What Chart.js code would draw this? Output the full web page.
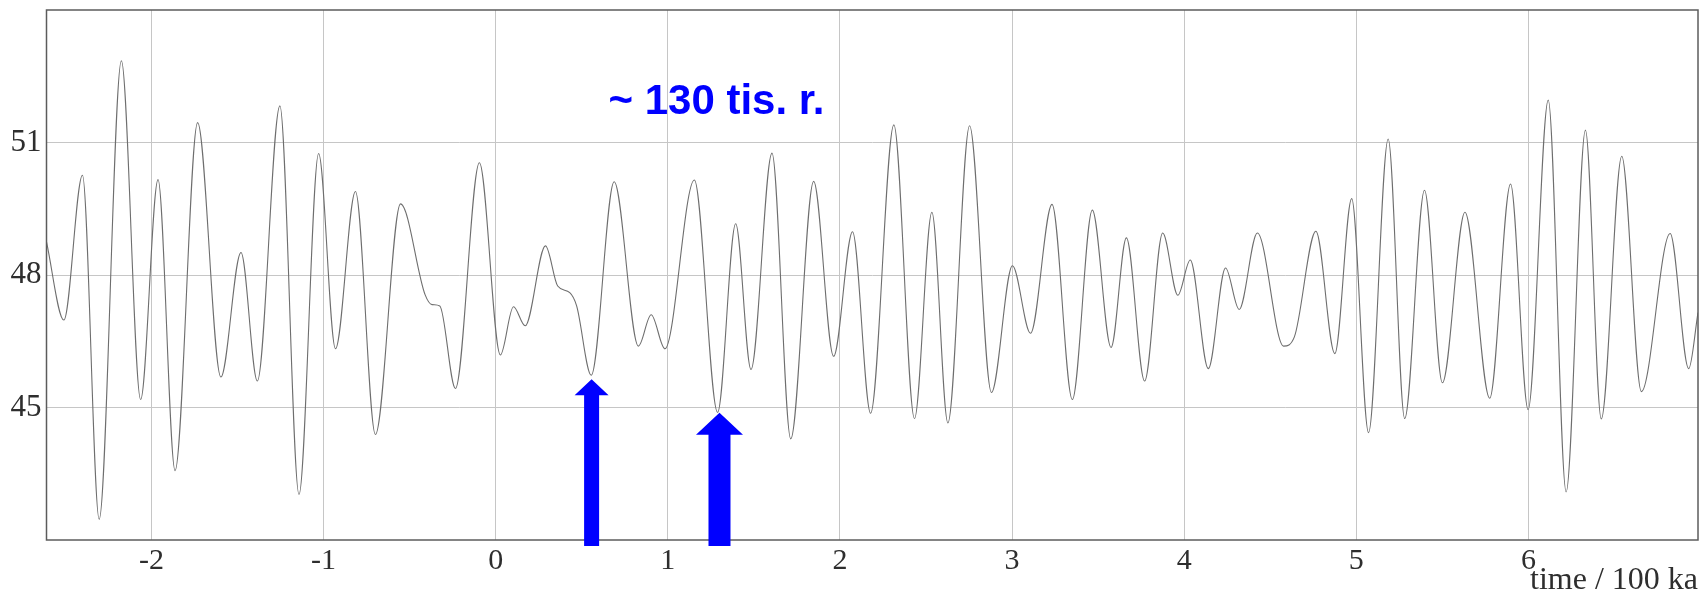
<!DOCTYPE html>
<html>
<head>
<meta charset="utf-8">
<script src="https://cdn.jsdelivr.net/npm/chart.js@4/dist/chart.umd.min.js"></script>
<style>
  html, body { margin: 0; padding: 0; background: #fff; }
  #wrap { width: 1703px; height: 597px; }
</style>
</head>
<body>
<div id="wrap"><canvas id="c" width="1703" height="597"></canvas></div>
<script>
// ---- data ----
const timeKa = [
  -2.61, -2.509, -2.401, -2.304, -2.175, -2.063, -1.962, -1.863, -1.732, -1.597,
  -1.480, -1.385, -1.254, -1.143, -1.029, -0.931, -0.815, -0.699, -0.553,
  -0.41, -0.37, -0.325, -0.234, -0.095, 0.027, 0.103, 0.171, 0.289, 0.36,
  0.43, 0.47, 0.555, 0.688, 0.829, 0.903, 0.983, 1.154, 1.289, 1.394,
  1.483, 1.605, 1.714, 1.847, 1.963, 2.073, 2.178, 2.313, 2.433, 2.534,
  2.627, 2.753, 2.880, 3.002, 3.107, 3.232, 3.350, 3.466, 3.575, 3.664,
  3.77, 3.875, 3.963, 4.035, 4.140, 4.240, 4.319, 4.425, 4.577,
  4.64, 4.765, 4.875, 4.973, 5.071, 5.185, 5.281, 5.396, 5.500, 5.631,
  5.775, 5.896, 5.998, 6.115, 6.219, 6.331, 6.423, 6.542, 6.656, 6.823,
  6.931, 6.985
];
const insolation = [
  48.75, 46.98, 50.26, 42.47, 52.85, 45.18, 50.16, 43.57, 51.45, 45.69,
  48.51, 45.60, 51.83, 43.03, 50.75, 46.33, 49.89, 44.39, 49.61,
  47.55, 47.33, 47.3, 45.43, 50.54, 46.19, 47.28, 46.85, 48.66, 47.75,
  47.6, 47.3, 45.73, 50.11, 46.39, 47.10, 46.33, 50.15, 44.89, 49.16,
  45.86, 50.76, 44.29, 50.12, 46.16, 48.98, 44.87, 51.40, 44.75, 49.42,
  44.65, 51.38, 45.34, 48.21, 46.68, 49.60, 45.18, 49.47, 46.36, 48.84,
  45.6, 48.95, 47.54, 48.34, 45.88, 48.16, 47.22, 48.95, 46.39,
  46.6, 48.99, 46.22, 49.73, 44.43, 51.08, 44.75, 49.92, 45.56, 49.42,
  45.21, 50.06, 44.95, 51.96, 43.09, 51.28, 44.74, 50.69, 45.36, 48.94,
  45.88, 47.15
];
const xTickValues = [-2, -1, 0, 1, 2, 3, 4, 5, 6];
const yTickValues = [45, 48, 51];
const xRange = [-2.61, 6.985];
const yRange = [42, 54];
const xTitle = 'time / 100 ka';

// annotations
const arrowTimes = [0.557, 1.30];
const arrowTips = [45.64, 44.88];
const periodLabel = '~ 130 tis. r.';
const labelTime = 0.655;
const labelValue = 51.64;

// ---- styles ----
const serif = '"Liberation Serif", "Times New Roman", serif';
const arrowStyles = [
  { shaft: 15, head: 34, len: 16 },
  { shaft: 22, head: 47, len: 22 }
];

const annot = {
  id: 'annot',
  afterDatasetsDraw(chart) {
    const { ctx, chartArea: a, scales: { x, y } } = chart;
    ctx.save();
    ctx.strokeStyle = '#5c5c5c';
    ctx.lineWidth = 1.5;
    ctx.strokeRect(a.left, a.top, a.right - a.left, a.bottom - a.top);

    ctx.fillStyle = '#0000ff';
    arrowTimes.forEach((t, i) => {
      const st = arrowStyles[i];
      const cx = x.getPixelForValue(t);
      const tip = y.getPixelForValue(arrowTips[i]);
      const base = a.bottom + 6;
      ctx.beginPath();
      ctx.moveTo(cx, tip);
      ctx.lineTo(cx + st.head / 2, tip + st.len);
      ctx.lineTo(cx + st.shaft / 2, tip + st.len);
      ctx.lineTo(cx + st.shaft / 2, base);
      ctx.lineTo(cx - st.shaft / 2, base);
      ctx.lineTo(cx - st.shaft / 2, tip + st.len);
      ctx.lineTo(cx - st.head / 2, tip + st.len);
      ctx.closePath();
      ctx.fill();
    });

    ctx.font = 'bold 42px "Liberation Sans", Arial, sans-serif';
    ctx.textAlign = 'left';
    ctx.textBaseline = 'alphabetic';
    ctx.fillText(periodLabel, x.getPixelForValue(labelTime), y.getPixelForValue(labelValue));
    ctx.restore();
  }
};

new Chart(document.getElementById('c'), {
  type: 'line',
  data: {
    datasets: [{
      data: timeKa.map((t, i) => ({ x: t, y: insolation[i] })),
      borderColor: '#6e6e6e',
      borderWidth: 1.1,
      pointRadius: 0,
      fill: false,
      cubicInterpolationMode: 'monotone'
    }]
  },
  options: {
    responsive: false,
    animation: false,
    devicePixelRatio: 1,
    layout: { padding: { left: 0, top: 10, right: 5, bottom: 0 } },
    plugins: { legend: { display: false }, tooltip: { enabled: false } },
    scales: {
      x: {
        type: 'linear',
        min: xRange[0],
        max: xRange[1],
        afterBuildTicks: s => { s.ticks = xTickValues.map(v => ({ value: v })); },
        afterFit: s => { s.height = 57; s.paddingLeft = 0; s.paddingRight = 0; },
        grid: { color: '#c6c6c6', lineWidth: 1, drawTicks: false },
        border: { display: false },
        ticks: {
          autoSkip: false, maxRotation: 0, padding: 3, color: '#2e2e2e',
          font: { family: serif, size: 30 },
          callback: v => String(v)
        },
        title: {
          display: true, text: xTitle, align: 'end', color: '#2e2e2e',
          font: { family: serif, size: 32, lineHeight: 1 }, padding: 0
        }
      },
      y: {
        min: yRange[0],
        max: yRange[1],
        afterBuildTicks: s => { s.ticks = yTickValues.map(v => ({ value: v })); },
        afterFit: s => { s.width = 46.5; s.paddingTop = 0; s.paddingBottom = 0; },
        grid: { color: '#c6c6c6', lineWidth: 1, drawTicks: false },
        border: { display: false },
        ticks: {
          padding: 5, color: '#2e2e2e',
          font: { family: serif, size: 31 },
          callback: v => String(v)
        }
      }
    }
  },
  plugins: [annot]
});
</script>
</body>
</html>
